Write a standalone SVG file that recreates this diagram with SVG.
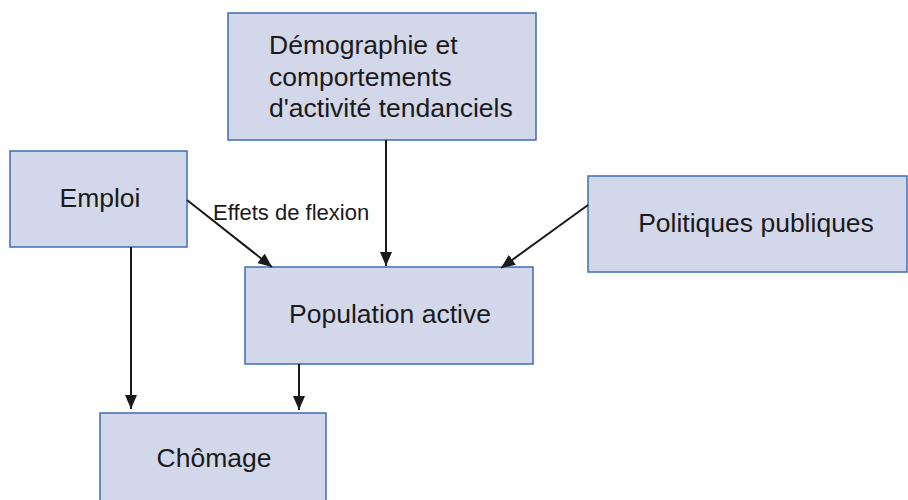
<svg xmlns="http://www.w3.org/2000/svg" width="908" height="500" viewBox="0 0 908 500">
<style>
.box{fill:#d3d7ea;stroke:#3d6db3;stroke-width:1.5}
.t{font-family:"Liberation Sans",Arial,sans-serif;font-size:26.5px;fill:#1a1a1a}
.s{font-family:"Liberation Sans",Arial,sans-serif;font-size:22px;fill:#1a1a1a}
.c{stroke:#1a1a1a;stroke-width:2;fill:none;marker-end:url(#ah)}
</style>
<defs>
<marker id="ah" viewBox="0 0 14 12" refX="14" refY="6" markerWidth="14" markerHeight="12" markerUnits="userSpaceOnUse" orient="auto">
<path d="M0,0 L14,6 L0,12 Z" fill="#1a1a1a"/>
</marker>
</defs>
<rect width="908" height="500" fill="#ffffff"/>
<g id="demographie">
<rect class="box" x="228" y="13" width="308" height="127"/>
<text class="t" x="269" y="54">Démographie et</text>
<text class="t" x="269" y="86">comportements</text>
<text class="t" x="269" y="117">d'activité tendanciels</text>
</g>
<g id="emploi">
<rect class="box" x="10" y="151" width="177" height="96"/>
<text class="t" x="100" y="207" text-anchor="middle">Emploi</text>
</g>
<g id="politiques">
<rect class="box" x="588" y="176" width="319" height="96"/>
<text class="t" x="756" y="232" text-anchor="middle">Politiques publiques</text>
</g>
<g id="population">
<rect class="box" x="245" y="267" width="288" height="97"/>
<text class="t" x="390" y="323" text-anchor="middle">Population active</text>
</g>
<g id="chomage">
<rect class="box" x="100" y="413" width="226" height="100"/>
<text class="t" x="214" y="467" text-anchor="middle">Chômage</text>
</g>
<g id="connectors">
<line class="c" x1="386" y1="140" x2="386" y2="266"/>
<line class="c" x1="187" y1="200" x2="272" y2="267"/>
<line class="c" x1="588" y1="205" x2="501" y2="268"/>
<line class="c" x1="131" y1="247" x2="131" y2="409"/>
<line class="c" x1="299" y1="364" x2="299" y2="410"/>
<text class="s" x="213" y="220">Effets de flexion</text>
</g>
</svg>
